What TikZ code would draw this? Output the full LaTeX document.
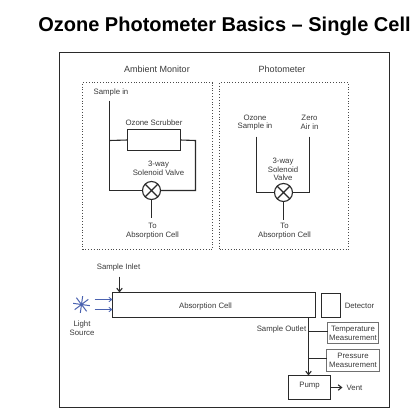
\documentclass[tikz,border=0pt]{standalone}
\usepackage{fontspec}
\setmainfont{Liberation Sans}
\usetikzlibrary{arrows.meta,calc}
\definecolor{ink}{HTML}{2A2A2A}
\definecolor{txt}{HTML}{3A3A3A}
\definecolor{rimgray}{HTML}{707070}
\definecolor{beam}{HTML}{4A62B0}
\tikzset{
  lbl/.style={text=txt,font=\fontsize{7.8}{8.8}\selectfont,align=center,inner sep=0pt},
  head/.style={lbl,font=\fontsize{9}{10}\selectfont},
  pipe/.style={draw=ink,line width=1.1pt},
  flow/.style={pipe,-{Straight Barb[length=3.5pt,width=5.5pt]}},
  ray/.style={draw=beam,line width=0.8pt,-{Straight Barb[length=3pt,width=4.5pt]}},
  spoke/.style={draw=beam,line width=1pt},
  zone/.style={draw=ink!85,dotted,line width=0.8pt,outer sep=0pt},
  unit/.style={draw=ink,line width=1.2pt,inner sep=0pt,outer sep=0pt,anchor=north west},
  sensor/.style={draw=rimgray,line width=1.2pt,inner sep=0pt,outer sep=0pt,anchor=north west,text=txt,font=\fontsize{7.8}{8.8}\selectfont,align=center},
  valve/.style={circle,draw=ink,line width=1.1pt,minimum size=18pt,inner sep=0pt,outer sep=0pt,
    path picture={\draw[ink,line width=1.1pt] (path picture bounding box.south west)--(path picture bounding box.north east)
      (path picture bounding box.north west)--(path picture bounding box.south east);}}
}
\begin{document}
\begin{tikzpicture}[x=1pt,y=-1pt]
\useasboundingbox (0,0) rectangle (414,412);
\fill[white] (0,0) rectangle (414,412);
\begin{scope}[shift={(0.5,0.5)}]
\node[inner sep=0pt,font=\bfseries\fontsize{20}{22}\selectfont] (title) at (224,25.5) {Ozone Photometer Basics – Single Cell};
\node[draw=ink,line width=1.4pt,inner sep=0pt,outer sep=0pt,minimum width=330pt,minimum height=355pt,anchor=north west] (frame) at (59,52) {};
\node[zone,inner sep=0pt,minimum width=130pt,minimum height=167pt,anchor=north west] (ambient) at (82,82) {};
\node[zone,inner sep=0pt,minimum width=129pt,minimum height=167pt,anchor=north west] (photo) at (219,82) {};
\node[head] (ambtitle) at (156.5,69) {Ambient Monitor};
\node[head] (phototitle) at (281.5,69) {Photometer};
% ambient monitor
\node[lbl] (samplein) at (110.5,92) {Sample in};
\node[lbl] (scrublabel) at (153.5,122) {Ozone Scrubber};
\node[unit,minimum width=53pt,minimum height=21pt] (scrub) at (127,129) {};
\node[lbl] (v1label) at (158,168) {3-way\\Solenoid Valve};
\node[valve] (v1) at (151,190) {};
\node[lbl] (v1to) at (152,231) {To\\Absorption Cell};
\coordinate (a1) at (109,100);
\coordinate (a2) at (109,140);
\coordinate (a3) at (109,190);
\coordinate (a4) at (195,140);
\coordinate (a5) at (195,190);
\coordinate (a6) at (151,217);
\draw[pipe] (a1) -- (a3) -- (v1.west);
\draw[pipe] (a2) -- (scrub.west);
\draw[pipe] (scrub.east) -- (a4) -- (a5) -- (v1.east);
\draw[pipe] (v1.south) -- (a6);
% photometer
\node[lbl] (ozlabel) at (254.5,122) {Ozone\\Sample in};
\node[lbl] (zerolabel) at (309,122) {Zero\\Air in};
\node[lbl] (v2label) at (282.5,169) {3-way\\Solenoid\\Valve};
\node[valve] (v2) at (283,192) {};
\node[lbl] (v2to) at (284,231) {To\\Absorption Cell};
\coordinate (p1) at (256,136);
\coordinate (p2) at (256,192);
\coordinate (p3) at (309,136);
\coordinate (p4) at (309,192);
\coordinate (p5) at (283,219);
\draw[pipe] (p1) -- (p2) -- (v2.west);
\draw[pipe] (p3) -- (p4) -- (v2.east);
\draw[pipe] (v2.south) -- (p5);
% lower section
\node[lbl] (inletlabel) at (118,267) {Sample Inlet};
\node[unit,minimum width=203pt,minimum height=25pt] (cell) at (112,292) {};
\node[lbl] (celllabel) at (205,306) {Absorption Cell};
\node[unit,minimum width=19pt,minimum height=24pt] (det) at (321,293) {};
\node[lbl] (detlabel) at (359,305) {Detector};
\node[lbl] (lightlabel) at (81.5,328) {Light\\Source};
\node[lbl] (outletlabel) at (281,328.5) {Sample Outlet};
\node[sensor,minimum width=51pt,minimum height=21pt] (temp) at (327,322) {Temperature\\Measurement};
\node[sensor,minimum width=53pt,minimum height=22pt] (press) at (326,349) {Pressure\\Measurement};
\node[unit,minimum width=42pt,minimum height=24pt] (pump) at (288,375) {};
\node[lbl] (pumplabel) at (309,385.5) {Pump};
\node[lbl] (ventlabel) at (354,387.5) {Vent};
\coordinate (i1) at (119,276);
\coordinate (i2) at (119,292);
\draw[flow] (i1) -- (i2);
\coordinate (o1) at (308,317);
\coordinate (o2) at (308,375);
\coordinate (o3) at (308,331);
\coordinate (o4) at (308,358);
\coordinate (o5) at (342,387);
\draw[flow] (o1) -- (o2);
\draw[pipe] (o3) -- (temp.west |- o3);
\draw[pipe] (o4) -- (press.west |- o4);
\draw[flow] (pump.east |- o5) -- (o5);
% light source
\coordinate (star) at (81,304);
\foreach \a in {0,45,...,315} \draw[spoke] (star) -- ++(\a+8:8.5);
\fill[beam] (star) circle (1.6pt);
\coordinate (r1) at (94,299);
\coordinate (r2) at (94,309);
\draw[ray] (r1) -- (cell.west |- r1);
\draw[ray] (r2) -- (cell.west |- r2);
\end{scope}
\end{tikzpicture}
\end{document}
